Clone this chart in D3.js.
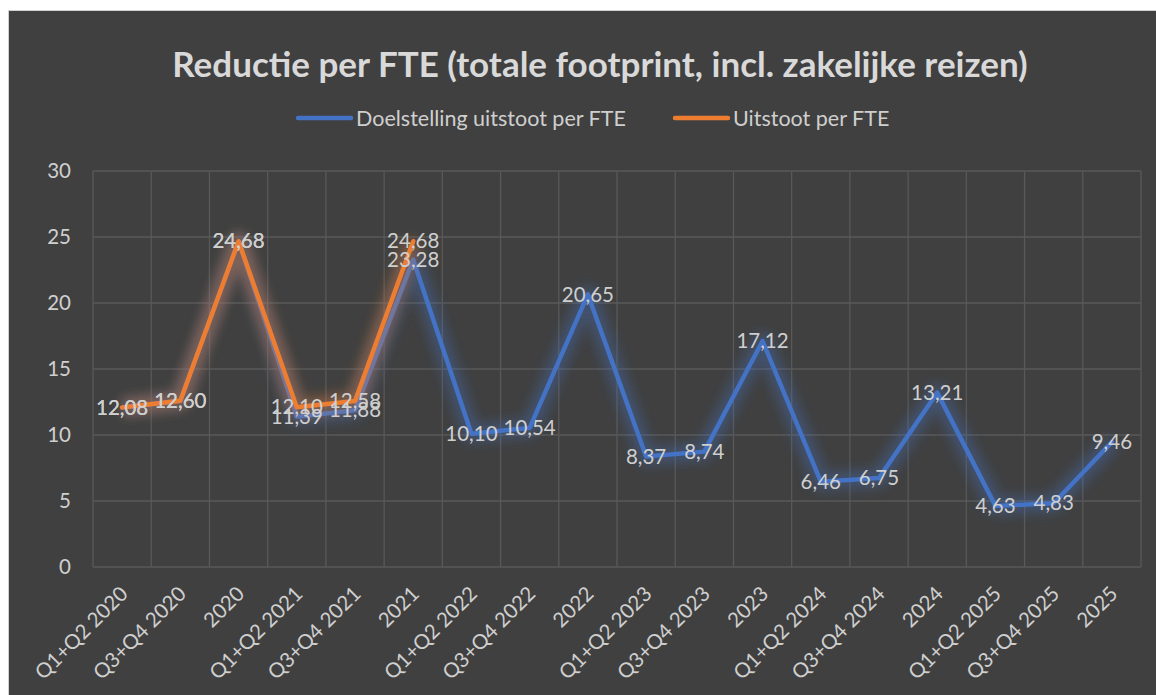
<!DOCTYPE html>
<html>
<head>
<meta charset="utf-8">
<script src="https://cdn.jsdelivr.net/npm/d3@7.9.0/dist/d3.min.js"></script>
<style>
  html, body { margin: 0; padding: 0; background: #fff; }
  svg { display: block; font-family: Lato, "Open Sans", sans-serif; }
</style>
</head>
<body>
<svg id="chart" width="1156" height="695"></svg>
<script>
const categories = ['Q1+Q2 2020','Q3+Q4 2020','2020','Q1+Q2 2021','Q3+Q4 2021','2021',
  'Q1+Q2 2022','Q3+Q4 2022','2022','Q1+Q2 2023','Q3+Q4 2023','2023',
  'Q1+Q2 2024','Q3+Q4 2024','2024','Q1+Q2 2025','Q3+Q4 2025','2025'];
const doelstelling = [12.08,12.60,24.68,11.39,11.88,23.28,10.10,10.54,20.65,8.37,8.74,17.12,6.46,6.75,13.21,4.63,4.83,9.46];
const uitstoot     = [12.08,12.60,24.68,12.10,12.58,24.68,null,null,null,null,null,null,null,null,null,null,null,null];
const yTicks = [0,5,10,15,20,25,30];

const series = [
  { name: 'Doelstelling uitstoot per FTE', values: doelstelling, color: '#4472C4' },
  { name: 'Uitstoot per FTE',              values: uitstoot,     color: '#ED7D31' }
];

const W = 1156, H = 695;
const plot = { left: 93, top: 171, right: 1141, bottom: 567 };
const titleCol = '#D9D9D9';
const textCol = '#CFCFCF';
const gridCol = '#595959';

const svg = d3.select('#chart');

const defs = svg.append('defs');
defs.append('filter').attr('id','glow')
    .attr('x','-20%').attr('y','-20%').attr('width','140%').attr('height','140%')
  .append('feGaussianBlur').attr('stdDeviation', 6);

// background panel
svg.append('rect')
   .attr('x', 8.5).attr('y', 10.5).attr('width', W).attr('height', H)
   .attr('fill', '#404040').attr('stroke', '#D0D0D0');

const x = d3.scaleBand().domain(categories).range([plot.left, plot.right]);
const y = d3.scaleLinear().domain([0,30]).range([plot.bottom, plot.top]);
const cx = d => x(d) + x.bandwidth()/2;

// gridlines
const grid = svg.append('g').attr('stroke', gridCol).attr('stroke-width', 1.3);
grid.selectAll('line.h').data(yTicks).enter().append('line')
    .attr('x1', plot.left).attr('x2', plot.right)
    .attr('y1', d => y(d)).attr('y2', d => y(d));
grid.selectAll('line.v').data(d3.range(categories.length + 1)).enter().append('line')
    .attr('x1', i => plot.left + i*x.bandwidth()).attr('x2', i => plot.left + i*x.bandwidth())
    .attr('y1', plot.top).attr('y2', plot.bottom);

// y axis labels
svg.append('g').selectAll('text').data(yTicks).enter().append('text')
   .attr('x', 71).attr('y', d => y(d)).attr('dy', '0.35em')
   .attr('text-anchor', 'end').attr('fill', textCol).attr('font-size', 20.5)
   .text(d => d);

// x axis labels
svg.append('g').selectAll('text').data(categories).enter().append('text')
   .attr('transform', d => `translate(${cx(d) + 2},${plot.bottom + 23}) rotate(-45)`)
   .attr('text-anchor', 'end').attr('dy', '0.35em')
   .attr('fill', textCol).attr('font-size', 20.5)
   .text(d => d);

// lines
const line = d3.line()
  .defined(d => d.v != null)
  .x(d => cx(d.c)).y(d => y(d.v));

series.forEach(s => {
  const pts = categories.map((c,i) => ({ c, v: s.values[i] }));
  svg.append('path').datum(pts)
     .attr('d', line).attr('fill', 'none')
     .attr('stroke', s.color).attr('stroke-width', 18).attr('stroke-opacity', 0.35)
     .attr('stroke-linejoin', 'round').attr('filter', 'url(#glow)');
  svg.append('path').datum(pts)
     .attr('d', line).attr('fill', 'none')
     .attr('stroke', s.color).attr('stroke-width', 4.5)
     .attr('stroke-linejoin', 'round').attr('stroke-linecap', 'round');
});

// data labels
const fmt = v => v.toFixed(2).replace('.', ',');
series.forEach(s => {
  svg.append('g').selectAll('text')
     .data(categories.map((c,i) => ({ c, v: s.values[i] })).filter(d => d.v != null))
     .enter().append('text')
     .attr('x', d => cx(d.c)).attr('y', d => y(d.v)).attr('dy', '0.35em')
     .attr('text-anchor', 'middle').attr('fill', textCol).attr('font-size', 20.5)
     .text(d => fmt(d.v));
});

// title
svg.append('text')
   .attr('x', 600).attr('y', 65).attr('dy', '0.35em')
   .attr('text-anchor', 'middle').attr('fill', titleCol)
   .attr('font-size', 35).attr('font-weight', 'bold')
   .text('Reductie per FTE (totale footprint, incl. zakelijke reizen)');

// legend
const legend = [
  { s: series[0], x: 298 },
  { s: series[1], x: 675 }
];
legend.forEach(l => {
  svg.append('line')
     .attr('x1', l.x).attr('x2', l.x + 53).attr('y1', 118).attr('y2', 118)
     .attr('stroke', l.s.color).attr('stroke-width', 4.5).attr('stroke-linecap', 'round');
  svg.append('text')
     .attr('x', l.x + 58).attr('y', 118).attr('dy', '0.35em')
     .attr('fill', textCol).attr('font-size', 21.5)
     .text(l.s.name);
});
</script>
</body>
</html>
